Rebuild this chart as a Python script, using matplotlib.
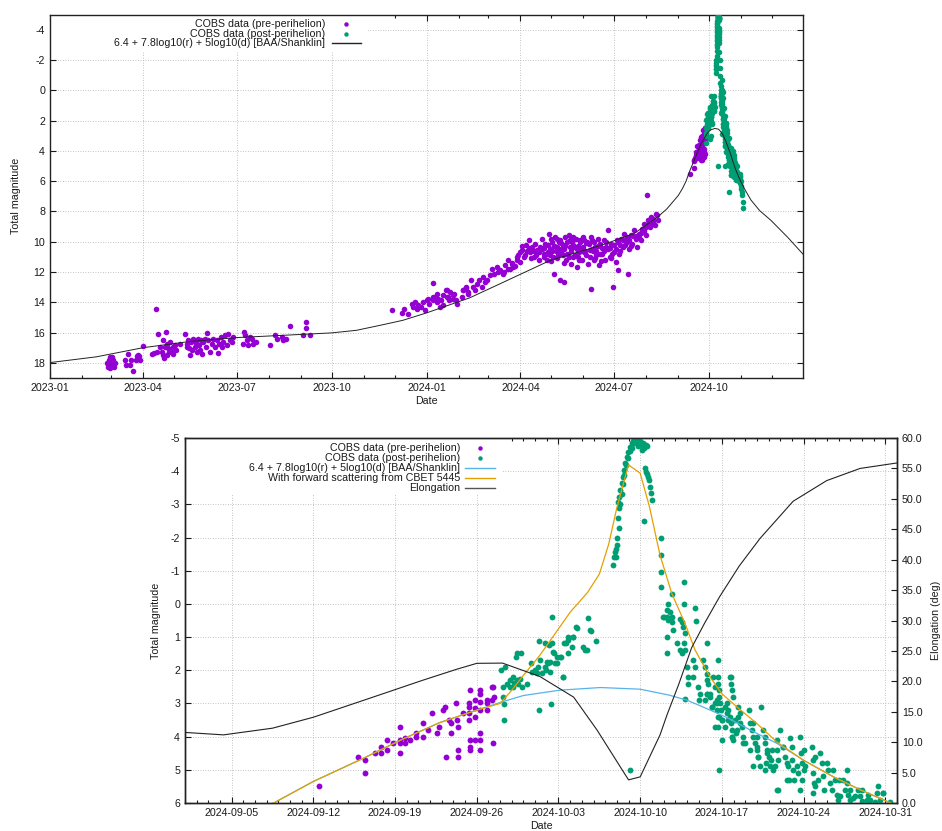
import numpy as np
import matplotlib
matplotlib.use("Agg")
import matplotlib.pyplot as plt
import matplotlib.dates as mdates
from matplotlib.ticker import MultipleLocator, FormatStrFormatter
from matplotlib.patches import Rectangle

plt.rcParams['font.family'] = ['Liberation Sans', 'DejaVu Sans']
plt.rcParams['axes.unicode_minus'] = False

FS = 7.7
PURPLE = '#9400D3'
GREEN = '#009E73'
BLUE = '#56B4E9'
ORANGE = '#E69F00'

# COBS pre-perihelion observations, days after 2023-01-01, total magnitude
early_obs = [
    (55.6, 18.04), (56.5, 18.27), (57.5, 17.83), (58.1, 17.6), (58.8, 18.15), (59.8, 17.93),
    (60.7, 17.78), (61.4, 18.04), (62.0, 18.26), (63.0, 18.0), (58.1, 18.37), (60.0, 17.6),
    (72.7, 17.83), (73.6, 18.15), (75.9, 17.43), (77.5, 18.15), (78.2, 17.83), (80.7, 18.53),
    (83.3, 17.78), (84.0, 17.56), (85.6, 17.5), (87.2, 17.78), (86.6, 17.56),
    (89.8, 16.9), (98.5, 17.43), (100.8, 17.34), (103.4, 17.28), (102.4, 14.42), (105.0, 16.11),
    (106.6, 16.95), (108.2, 17.28), (109.2, 16.5), (109.8, 17.5), (111.4, 16.95), (112.4, 15.96),
    (113.0, 16.73), (113.7, 17.5), (114.7, 17.05), (115.6, 17.28), (116.3, 16.6), (117.9, 17.17),
    (118.9, 16.95), (119.5, 17.39), (121.1, 16.83), (122.1, 17.17), (110.5, 17.7),
    (126.0, 16.73), (130.8, 16.11),
    (132.4, 16.73), (133.1, 16.95), (134.0, 16.5), (135.0, 17.05), (135.7, 17.5), (136.6, 16.6),
    (137.6, 17.17), (138.9, 16.4), (140.5, 16.95), (141.5, 16.68), (142.1, 17.28), (143.7, 16.4),
    (144.7, 16.83), (145.3, 17.12), (146.3, 16.5), (147.0, 17.39), (148.6, 16.6), (150.2, 16.4),
    (152.5, 16.02), (151.2, 16.95),
    (153.4, 16.5), (155.0, 17.28), (156.7, 16.73), (158.3, 16.4), (159.9, 16.95), (161.5, 16.5),
    (163.1, 17.34), (164.1, 16.73), (165.4, 16.29), (166.3, 16.95), (167.9, 16.6), (169.6, 16.18),
    (171.2, 16.83), (172.8, 16.11), (174.4, 16.5), (176.0, 16.6), (177.6, 16.29),
    (186.7, 16.73), (188.0, 15.96), (189.0, 16.18), (190.6, 16.5), (192.2, 16.83), (193.8, 16.29),
    (195.4, 16.4), (197.0, 16.73), (199.6, 16.6),
    (213.2, 16.83), (218.0, 16.18), (219.6, 16.4), (224.5, 16.29), (226.1, 16.5), (228.7, 16.4),
    (232.6, 15.54), (245.5, 16.18), (248.0, 15.32), (248.0, 15.69), (251.9, 16.18),
    (331.1, 14.48), (340.8, 14.7), (343.0, 14.42), (347.2, 14.75), (350.5, 14.09), (352.1, 14.31),
    (353.7, 13.98), (355.3, 14.42), (356.9, 14.2), (359.2, 14.31), (361.8, 13.98), (363.4, 14.53),
    (365.6, 13.87), (367.6, 14.09),
    (370.8, 12.7), (371.4, 13.87), (373.1, 13.65), (374.7, 13.98), (376.3, 13.76), (377.9, 14.31),
    (379.5, 13.87), (381.1, 14.2), (383.7, 13.21), (385.0, 13.65), (387.0, 13.87), (388.2, 13.32),
    (390.2, 13.76), (391.5, 13.43), (393.4, 13.87), (366.6, 13.76), (371.5, 13.65), (374.7, 13.43),
    (381.2, 13.54), (384.4, 13.21), (386.0, 13.65), (390.9, 13.54), (394.2, 14.09),
    (398.9, 13.65), (400.5, 13.21), (403.1, 13.03), (405.4, 13.32),
    (400.6, 13.21), (403.2, 12.99), (405.5, 13.43), (407.8, 12.55), (410.4, 12.99), (412.0, 13.21),
    (413.6, 12.77), (416.2, 12.55), (418.5, 12.99), (420.1, 12.33), (421.7, 12.66), (423.3, 12.55),
    (426.6, 12.22), (428.2, 11.78), (430.5, 12.11), (433.1, 11.67), (434.7, 12.0), (436.3, 11.89),
    (438.9, 12.11), (441.2, 11.56), (443.8, 11.23), (446.0, 11.78), (447.7, 11.45), (449.3, 11.67),
    (440.0, 12.0), (444.0, 11.8), (448.0, 11.4), (451.0, 11.6), (453.0, 11.0),
    (452.5, 11.23), (454.1, 10.9), (455.8, 11.34), (457.4, 10.57), (459.6, 11.01), (461.6, 10.24),
    (463.9, 9.91), (465.5, 10.68), (467.1, 10.35), (468.7, 11.01), (470.4, 10.13), (472.0, 10.57),
    (473.6, 11.23), (475.2, 10.35),
    (476.8, 9.8), (478.5, 10.79), (480.1, 10.13), (481.7, 11.23), (483.3, 9.47), (484.9, 10.46),
    (486.6, 10.02), (487.5, 11.01), (488.2, 12.11), (489.8, 9.69), (491.4, 10.35), (492.1, 10.9),
    (494.0, 9.91), (494.7, 12.55), (496.3, 10.57), (497.3, 10.24), (497.9, 12.66), (499.5, 9.69),
    (500.5, 11.23), (501.2, 10.79), (502.8, 9.58), (503.8, 10.35), (505.0, 11.45), (506.0, 10.02),
    (507.0, 11.01), (479.0, 10.4), (482.5, 10.7), (485.8, 9.8), (490.5, 10.6), (495.2, 10.1),
    (498.7, 10.5), (504.5, 9.9), (493.0, 10.0), (488.8, 10.25),
    (508.3, 10.35), (510.2, 9.8), (510.9, 11.67), (512.5, 10.68), (514.1, 10.02), (515.8, 11.23),
    (516.7, 10.35), (518.0, 9.91), (520.0, 10.9), (521.3, 11.45), (522.2, 10.13), (523.9, 10.57),
    (524.8, 13.14), (525.5, 9.91), (527.1, 11.23), (528.7, 10.35), (529.7, 10.9), (531.0, 9.8),
    (532.3, 11.56), (511.5, 10.3), (517.5, 10.7), (526.5, 10.6), (519.2, 10.1),
    (533.6, 10.13), (535.2, 10.79), (536.8, 9.91), (538.4, 11.23), (539.4, 10.35), (540.7, 9.25),
    (542.7, 11.01), (544.0, 10.13), (545.9, 12.99), (546.6, 10.68), (548.2, 11.34), (549.2, 9.91),
    (550.4, 11.89), (551.4, 10.79), (552.4, 10.24),
    (553.7, 9.8), (555.6, 10.35), (556.9, 9.47), (558.9, 10.02), (560.5, 12.15), (561.1, 10.46),
    (562.8, 9.58), (564.4, 10.13), (566.0, 9.25), (567.6, 9.8), (569.2, 10.35), (570.9, 9.47),
    (572.5, 9.91),
    (574.1, 9.14), (575.7, 8.81), (577.4, 9.58), (579.0, 6.94), (579.6, 8.59), (581.6, 9.03),
    (582.9, 8.37), (584.8, 8.7), (586.1, 8.92), (587.1, 8.15), (588.7, 8.26), (589.4, 8.59),
    # dense part of the spring / summer 2024 cloud
    (456.0, 10.7), (458.0, 10.3), (460.0, 10.9), (462.0, 10.6), (464.0, 10.4), (466.0, 11.1),
    (469.0, 10.6), (471.0, 10.9), (474.0, 10.7), (477.0, 10.5), (479.0, 11.0), (481.0, 10.8),
    (483.0, 10.2), (485.0, 10.9), (487.0, 10.6), (489.0, 10.3), (491.0, 11.1), (493.0, 10.7),
    (495.0, 10.5), (497.0, 10.9), (499.0, 10.3), (501.0, 10.0), (503.0, 11.0), (505.0, 10.6),
    (507.0, 10.2), (509.0, 10.9), (511.0, 10.5), (513.0, 11.2), (515.0, 10.4), (517.0, 9.7),
    (519.0, 10.6), (521.0, 10.0), (523.0, 11.0), (525.0, 10.5), (527.0, 10.0), (529.0, 10.6),
    (531.0, 10.3), (533.0, 10.8), (535.0, 10.4), (537.0, 10.6), (539.0, 10.0), (541.0, 10.5),
    (543.0, 10.4), (545.0, 10.8), (547.0, 10.2), (549.0, 10.5), (551.0, 10.0), (553.0, 10.6),
    (555.0, 9.9), (557.0, 10.2), (559.0, 9.7), (561.0, 9.9), (563.0, 10.3), (565.0, 9.6),
    (568.0, 9.6), (571.0, 9.7), (573.0, 9.4), (576.0, 9.3), (578.0, 9.0), (580.0, 8.8),
    (583.0, 8.9), (585.0, 8.5), (486.0, 11.3), (498.0, 11.4), (512.0, 11.0), (528.0, 11.1),
    (534.0, 11.3), (544.0, 11.1), (491.8, 9.8), (506.5, 9.7), (513.5, 9.9), (524.0, 9.7),
]

# September 2024 pre-perihelion observations, days after 2024-09-01
sept_obs = [
    (11.5, 5.5), (14.8, 4.6), (15.4, 4.7), (15.4, 5.1), (16.3, 4.5), (16.8, 4.3), (16.8, 4.5),
    (17.3, 4.1), (17.3, 4.4), (17.8, 4.2), (18.4, 3.7), (18.4, 4.1), (18.4, 4.2), (18.4, 4.5),
    (18.85, 4.05), (18.85, 4.2), (19.3, 4.1), (19.8, 3.9), (19.8, 4.0), (20.4, 4.0), (20.4, 3.6),
    (20.85, 3.8), (21.2, 3.3), (21.6, 3.9), (21.8, 3.7), (22.1, 3.2), (22.3, 3.1), (22.4, 4.6),
    (22.6, 3.5), (22.8, 3.9), (22.8, 3.6), (23.2, 3.0), (23.3, 3.5), (23.4, 3.7), (23.4, 4.4),
    (23.4, 4.6), (23.8, 3.3), (24.3, 3.1), (24.3, 3.3), (24.3, 3.5), (24.3, 3.0), (24.4, 2.6),
    (24.4, 4.3), (24.4, 4.4), (24.4, 4.1), (24.85, 2.9), (24.85, 3.15), (24.85, 3.4), (24.85, 4.1),
    (25.3, 2.6), (25.3, 2.7), (25.3, 2.95), (25.3, 3.2), (25.3, 3.9), (25.3, 4.1), (25.3, 4.4),
    (25.85, 2.9), (25.85, 3.2), (26.3, 2.5), (26.3, 2.9), (26.4, 4.2), (26.5, 2.8), (26.4, 2.5),
    (25.85, 3.0),
]

# post-perihelion observations, days after 2024-09-01
post_obs = [
    (27.08, 1.99), (27.42, 1.89), (27.28, 2.5), (27.28, 2.8), (27.36, 3.02), (27.36, 3.5),
    (27.56, 2.4), (27.85, 2.3), (27.85, 2.5), (28.13, 2.2), (28.13, 2.5), (28.19, 2.38),
    (28.36, 1.59), (28.48, 1.49), (28.76, 1.49), (28.42, 2.3), (28.56, 2.4), (28.7, 2.25),
    (28.85, 2.5), (29.28, 2.4), (29.62, 1.79), (29.7, 2.04), (29.99, 1.99), (30.13, 2.09),
    (30.28, 1.89), (30.36, 1.12), (30.36, 3.2), (30.42, 1.69), (30.85, 1.19), (30.85, 1.89),
    (30.93, 1.99), (31.13, 1.79), (31.28, 1.74), (31.28, 2.04), (31.42, 0.39), (31.42, 1.19),
    (31.5, 1.44), (31.36, 3.02), (31.65, 1.49), (31.85, 1.79), (31.85, 1.61), (32.19, 1.61),
    (32.36, 2.21), (32.48, 1.19), (32.85, 1.09), (32.79, 1.49), (33.13, 1.29), (33.28, 1.01),
    (33.56, 0.72), (34.13, 1.29), (34.28, 1.39), (34.56, 0.41), (34.76, 0.81), (35.22, 1.11),
    (30.56, 2.09), (31.05, 1.74), (31.22, 1.24), (31.7, 1.79), (32.13, 1.59), (32.42, 2.19),
    (32.65, 1.17), (32.85, 0.99), (33.22, 0.99), (33.5, 0.71), (34.42, 1.39), (34.7, 0.79),
    (38.13, 5.0),
    (36.7, -1.17), (36.76, -1.42), (36.85, -1.57), (36.93, -1.67), (37.05, -1.77), (37.22, -2.28),
    (37.19, -2.88), (37.13, -3.08), (37.22, -3.23), (37.28, -3.43), (37.42, -3.63), (37.5, -3.83),
    (37.62, -4.03), (37.7, -4.24), (37.85, -4.44), (37.99, -4.59), (38.13, -4.74), (38.28, -4.84),
    (38.42, -4.92), (38.56, -4.95), (38.7, -4.92), (38.85, -4.86), (38.99, -4.79), (39.13, -4.64),
    (39.27, -4.74), (39.42, -4.79), (39.5, -4.79), (37.1, -2.6), (37.0, -2.0), (36.9, -1.4),
    (37.3, -3.0), (37.4, -3.3), (37.55, -3.6), (37.65, -3.9), (37.8, -4.2), (37.95, -4.4),
    (38.1, -4.6), (38.3, -4.7), (38.5, -4.85), (38.8, -4.75), (39.0, -4.9), (39.2, -4.85),
    (39.35, -4.7), (39.6, -4.75),
    (39.42, -4.09), (39.5, -3.98), (39.62, -3.93), (39.7, -3.83), (39.79, -3.73), (39.85, -3.53),
    (39.9, -3.33), (39.99, -3.13), (39.36, -2.5),
    (40.76, -2.0), (40.76, -1.47), (40.76, -0.97), (40.76, -0.5), (41.7, -0.3), (41.42, -0.01),
    (41.27, 0.19), (41.27, 0.39), (41.42, 0.49), (41.7, 0.39), (41.7, 0.54), (41.56, 0.24),
    (42.76, -0.67), (42.76, 0.01), (42.42, 0.44), (42.56, 0.54), (42.7, 0.69), (42.85, 0.89),
    (43.7, 0.11), (43.79, 0.51), (41.05, 0.39), (40.99, 0.39), (41.84, 0.79), (42.84, 1.39),
    (42.76, 1.19), (41.27, 0.99), (41.27, 1.49), (42.13, 1.19), (42.41, 1.39), (42.56, 1.49),
    (44.7, 1.19), (43.04, 1.89), (43.13, 2.2), (43.13, 2.4), (42.84, 2.88), (43.56, 1.69),
    (43.7, 1.89), (43.56, 2.2), (43.98, 2.5), (44.13, 2.7), (44.07, 2.9), (44.41, 1.69),
    (44.56, 1.89), (44.7, 2.1), (44.7, 2.3), (44.84, 2.4), (44.7, 2.7), (45.13, 3.1), (44.98, 2.7),
    (45.41, 3.0), (45.56, 2.9), (45.7, 1.69), (45.7, 2.2), (45.7, 2.4), (45.78, 2.6), (45.78, 2.8),
    (45.84, 3.0), (45.9, 3.2), (45.78, 3.4), (45.41, 3.7), (45.98, 3.5), (45.79, 5.0),
    (46.7, 2.2), (46.76, 2.4), (46.84, 2.6), (46.93, 2.8), (46.41, 3.0), (46.56, 3.2), (46.7, 3.4),
    (46.76, 3.6), (46.84, 3.8), (46.98, 4.1), (46.84, 4.0), (47.41, 3.1), (47.56, 3.3),
    (47.56, 3.6), (47.7, 3.7), (47.78, 4.2), (48.41, 3.6), (48.56, 3.8), (48.7, 4.0), (48.84, 4.2),
    (48.98, 4.4), (49.13, 4.6), (49.33, 3.12), (49.56, 3.8), (49.7, 4.0), (49.84, 4.4),
    (49.78, 4.8), (49.27, 4.9), (49.7, 5.0), (50.41, 5.0), (50.56, 4.9), (50.7, 4.1), (50.75, 4.4),
    (50.84, 4.7), (50.75, 5.6), (50.98, 3.8), (51.27, 4.3), (51.41, 4.6), (51.55, 4.8),
    (51.61, 5.3), (51.84, 4.05), (51.98, 4.3), (52.7, 4.0), (52.75, 4.5), (52.84, 4.8),
    (52.84, 5.3), (52.7, 5.6), (53.7, 4.3), (53.78, 4.7), (53.84, 5.1), (53.9, 5.4), (53.78, 5.7),
    (54.41, 4.5), (54.55, 4.8), (54.7, 5.2), (54.75, 5.6), (54.98, 4.8), (55.13, 5.0),
    (55.55, 5.0), (55.7, 5.3), (55.84, 5.76), (56.12, 5.8), (55.98, 5.9), (56.7, 5.0), (56.7, 5.4),
    (56.84, 5.76), (56.98, 5.9), (57.27, 5.86), (57.7, 5.6), (57.84, 5.8), (57.98, 5.93),
    (58.41, 5.9), (58.7, 5.9), (59.41, 5.5), (59.55, 5.9), (59.78, 5.7),
    (44.56, 2.9), (44.7, 2.7), (44.99, 2.8), (45.13, 3.1), (45.27, 2.19), (45.42, 2.49),
    (45.56, 3.0), (45.62, 3.2), (45.7, 3.4), (45.7, 3.7), (45.99, 3.5), (46.27, 3.1), (46.42, 3.3),
    (46.56, 3.5), (46.85, 4.0), (46.76, 2.19), (47.13, 3.5), (47.27, 3.8), (47.85, 4.0),
    (47.99, 4.2), (48.36, 3.2), (48.7, 3.6), (48.99, 4.3), (49.13, 4.6), (49.7, 4.2), (49.84, 4.5),
    (50.07, 4.6), (50.13, 4.9), (48.7, 4.88), (50.84, 5.6), (51.27, 4.3), (51.7, 4.9),
    (51.78, 5.3), (52.41, 4.9), (52.56, 5.1), (53.13, 4.9), (54.27, 5.3), (55.27, 5.4),
    (56.41, 5.3), (56.56, 5.6), (57.41, 5.8), (59.13, 5.96), (59.33, 5.7), (59.84, 5.69),
    (60.4, 5.96),
    (52.0, 4.7), (52.1, 5.0), (52.2, 5.3), (53.0, 4.4), (53.0, 5.0), (54.0, 4.6), (54.0, 5.5),
    (55.4, 5.6), (56.0, 5.3), (57.0, 5.6), (58.0, 5.6), (58.5, 5.75), (50.3, 4.4), (50.2, 4.7),
    (49.0, 4.0), (48.4, 4.4), (47.4, 3.4), (47.2, 3.9), (46.3, 3.7), (46.0, 4.1),
    (49.5, 6.7), (60.2, 6.15), (60.5, 6.3), (61.0, 6.5), (61.5, 6.7), (62.0, 6.9), (62.3, 7.4),
    (62.3, 7.8),
]

# 6.4 + 7.8log10(r) + 5log10(d) [BAA/Shanklin], days after 2023-01-01
model_day = [0, 45, 90, 134, 181, 226, 273, 297, 320, 342, 365, 386, 407, 433, 485, 534, 566,
             589, 598, 605, 609, 613, 616.6, 620, 624.3, 627.5, 630.8, 634, 636, 638, 641.1,
             644.6, 648, 650.5, 652, 654, 655.4, 657.7, 659.7, 662, 664.55, 666.84, 668.55,
             670, 674, 679.5, 688, 699, 715, 731]
model_mag = [17.98, 17.6, 17.0, 16.6, 16.33, 16.18, 16.02, 15.85, 15.52, 15.19, 14.7, 14.2,
             13.7, 12.88, 11.23, 10.24, 9.47,
             8.37, 7.83, 7.27, 6.95, 6.5, 6.0, 5.35, 4.65, 4.1, 3.58, 3.2, 2.97, 2.76, 2.6,
             2.52, 2.57, 2.75, 2.9, 3.2, 3.42, 3.85, 4.2, 4.71, 5.21, 5.6, 5.86,
             6.08, 6.6, 7.25, 7.95, 8.6, 9.7, 10.9]

# with forward scattering from CBET 5445, days after 2024-09-01
scatter_day = [0, 4, 7.6, 11, 15.3, 18.5, 21.8, 25, 27, 28, 29, 30.4, 31.5, 33, 34.5, 35.5,
               36.3, 37, 38, 39, 39.8, 40.7, 41.7, 42.84, 43.7, 44.98, 45.98, 47.27, 48.98,
               50.7, 52.98, 55.55, 57.84, 59.55, 61]
scatter_mag = [6.95, 6.5, 6.0, 5.35, 4.65, 4.1, 3.58, 3.2, 3.0, 2.6, 2.15, 1.55, 1.0, 0.25,
               -0.35, -0.9, -1.8, -2.9, -4.19, -3.94, -2.92, -1.47, -0.32, 0.59, 1.39, 2.2,
               2.7, 3.1, 3.6, 4.16, 4.71, 5.21, 5.6, 5.86, 6.08]

# elongation (deg), days after 2024-09-01
elong_day = [0, 3.3, 7.5, 11, 16.1, 20.4, 23.3, 25, 27.2, 30.4, 33.3, 35.3, 38, 39, 40.7,
             41.3, 42.3, 43.4, 44.5, 45.8, 47.5, 49.27, 52.1, 54.98, 57.84, 61]
elong_deg = [11.6, 11.2, 12.3, 14.1, 17.4, 20.2, 22.0, 22.96, 23.0, 20.8, 17.4, 12.0, 3.8,
             4.3, 11.2, 14.5, 19.5, 25.5, 29.5, 33.9, 39.0, 43.5, 49.6, 53.0, 55.0, 55.9]


def to_dates(base, days):
    minutes = np.round(np.asarray(days, dtype=float) * 1440).astype('timedelta64[m]')
    return np.datetime64(base + 'T00:00') + minutes


def split(obs):
    arr = np.array(obs)
    return arr[:, 0], arr[:, 1]


def draw_key(ax, rows, x_text, x_mark, x_line, ys):
    # gnuplot style key: right aligned text, sample to the right
    for (label, kind, color), y in zip(rows, ys):
        ax.text(x_text, y, label, transform=ax.transAxes, ha='right', va='center',
                fontsize=FS, color='#1a1a1a', zorder=6)
        if kind == 'point':
            ax.plot([x_mark], [y], 'o', ms=3.2, color=color, mec='none',
                    transform=ax.transAxes, clip_on=False, zorder=6)
        else:
            ax.plot(x_line, [y, y], color=color, lw=1.0, transform=ax.transAxes,
                    clip_on=False, zorder=6)


def style_axes(ax):
    ax.set_axisbelow(True)
    ax.grid(True, which='major', color='#b0b0b0', linestyle=(0, (1, 2)), linewidth=0.6)
    ax.tick_params(which='both', direction='in', top=True, right=True,
                   labelsize=FS, colors='#1a1a1a', width=0.8)
    ax.tick_params(which='major', length=4.5, pad=3.5)
    ax.tick_params(which='minor', length=2.5)
    for s in ax.spines.values():
        s.set_linewidth(1.0)
        s.set_color('#222222')


e_day, e_mag = split(early_obs)
s_day, s_mag = split(sept_obs)
p_day, p_mag = split(post_obs)

pre_dates = np.concatenate([to_dates('2023-01-01', e_day), to_dates('2024-09-01', s_day)])
pre_mags = np.concatenate([e_mag, s_mag])
post_dates = to_dates('2024-09-01', p_day)
model_dates = to_dates('2023-01-01', model_day)

fig = plt.figure(figsize=(9.42, 8.31), dpi=100)

# ---- top panel: whole apparition ----
ax1 = fig.add_axes([0.0531, 0.5451, 0.7994, 0.4374])
style_axes(ax1)
ax1.plot(pre_dates, pre_mags, 'o', ms=4.0, color=PURPLE, mec='none', zorder=3)
ax1.plot(post_dates, p_mag, 'o', ms=4.0, color=GREEN, mec='none', zorder=3)
ax1.plot(model_dates, model_mag, color='#222222', lw=0.7, zorder=4)
ax1.set_xlim(np.datetime64('2023-01-01'), np.datetime64('2024-12-31'))
ax1.set_ylim(19, -5)
ax1.yaxis.set_major_locator(MultipleLocator(2))
ax1.xaxis.set_major_locator(mdates.MonthLocator(bymonth=[1, 4, 7, 10]))
ax1.xaxis.set_minor_locator(mdates.MonthLocator())
ax1.xaxis.set_major_formatter(mdates.DateFormatter('%Y-%m'))
ax1.set_xlabel('Date', fontsize=FS, color='#1a1a1a')
ax1.set_ylabel('Total magnitude', fontsize=FS, color='#1a1a1a')
ax1.xaxis.set_label_coords(0.5, -0.05)
ax1.yaxis.set_label_coords(-0.0385, 0.5)
ax1.add_patch(Rectangle((0, 0.898), 0.421, 0.102, transform=ax1.transAxes,
                        facecolor='white', edgecolor='none', zorder=1))
draw_key(ax1,
         [('COBS data (pre-perihelion)', 'point', PURPLE),
          ('COBS data (post-perihelion)', 'point', GREEN),
          ('6.4 + 7.8log10(r) + 5log10(d) [BAA/Shanklin]', 'line', '#222222')],
         0.3652, 0.3931, [0.3745, 0.413], [0.9739, 0.9472, 0.9208])

# ---- bottom panel: around perihelion ----
ax2 = fig.add_axes([0.1964, 0.0337, 0.7558, 0.4392])
style_axes(ax2)
ax2.plot(pre_dates, pre_mags, 'o', ms=4.2, color=PURPLE, mec='none', zorder=3)
ax2.plot(post_dates, p_mag, 'o', ms=4.2, color=GREEN, mec='none', zorder=3)
ax2.plot(model_dates, model_mag, color=BLUE, lw=0.9, zorder=4)
ax2.plot(to_dates('2024-09-01', scatter_day), scatter_mag, color=ORANGE, lw=0.9, zorder=4)
ax2.set_xlim(np.datetime64('2024-09-01'), np.datetime64('2024-11-01'))
ax2.set_ylim(6, -5)
ax2.yaxis.set_major_locator(MultipleLocator(1))
ax2.xaxis.set_major_locator(mdates.WeekdayLocator(byweekday=mdates.TH))
ax2.xaxis.set_minor_locator(mdates.DayLocator())
ax2.xaxis.set_major_formatter(mdates.DateFormatter('%Y-%m-%d'))
ax2.set_xlabel('Date', fontsize=FS, color='#1a1a1a')
ax2.set_ylabel('Total magnitude', fontsize=FS, color='#1a1a1a')
ax2.xaxis.set_label_coords(0.5, -0.049)
ax2.yaxis.set_label_coords(-0.0337, 0.5)
ax2.add_patch(Rectangle((0, 0.844), 0.447, 0.156, transform=ax2.transAxes,
                        facecolor='white', edgecolor='none', zorder=1))

ax3 = ax2.twinx()
ax3.plot(to_dates('2024-09-01', elong_day), elong_deg, color='#222222', lw=0.8, zorder=4)
ax3.set_ylim(0, 60)
ax3.yaxis.set_major_locator(MultipleLocator(5))
ax3.yaxis.set_major_formatter(FormatStrFormatter('%.1f'))
ax3.tick_params(direction='in', length=4.5, pad=3.5, labelsize=FS, colors='#1a1a1a', width=0.8)
ax3.set_ylabel('Elongation (deg)', fontsize=FS, color='#1a1a1a')
ax3.yaxis.set_label_coords(1.0478, 0.5)
for s in ax3.spines.values():
    s.set_linewidth(1.0)
    s.set_color('#222222')

draw_key(ax2,
         [('COBS data (pre-perihelion)', 'point', PURPLE),
          ('COBS data (post-perihelion)', 'point', GREEN),
          ('6.4 + 7.8log10(r) + 5log10(d) [BAA/Shanklin]', 'line', BLUE),
          ('With forward scattering from CBET 5445', 'line', ORANGE),
          ('Elongation', 'line', '#555555')],
         0.3862, 0.4143, [0.3933, 0.4354], [0.9718, 0.9444, 0.9170, 0.8896, 0.8622])

fig.savefig('out.png', dpi=100)
